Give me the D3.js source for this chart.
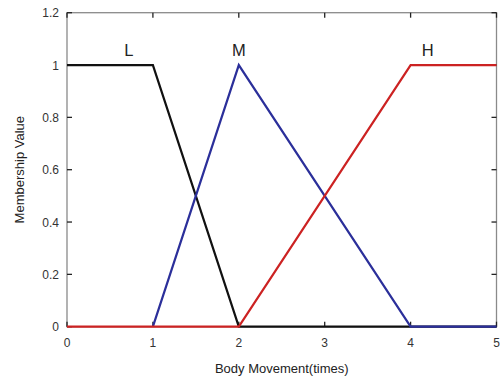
<!DOCTYPE html>
<html>
<head>
<meta charset="utf-8">
<script src="https://cdn.jsdelivr.net/npm/d3@7"></script>
<style>
body{margin:0;background:#fff;}
text{font-family:"Liberation Sans",Arial,sans-serif;}
</style>
</head>
<body>
<svg id="chart" width="502" height="381"></svg>
<script>
const xTicks = [0,1,2,3,4,5];
const yTicks = [0,0.2,0.4,0.6,0.8,1,1.2];
const yTickLabels = ["0","0.2","0.4","0.6","0.8","1","1.2"];
const seriesNames = ["L","M","H"];
const seriesColors = ["#111111","#2b2f9a","#cc2222"];
const lowX = [0,1,2,5];
const lowY = [1,1,0,0];
const medX = [1,2,4,5];
const medY = [0,1,0,0];
const highX = [0,2,4,5];
const highY = [0,0,1,1];
const labelPos = [[0.72,1.034],[2.0,1.034],[4.2,1.034]];
const xTitle = "Body Movement(times)";
const yTitle = "Membership Value";

const svg = d3.select("#chart");
const L=67, R=496.5, T=12.7, B=326.7;
const x = d3.scaleLinear().domain([0,5]).range([L,R]);
const y = d3.scaleLinear().domain([0,1.2]).range([B,T]);

// frame
svg.append("rect").attr("x",L).attr("y",T).attr("width",R-L).attr("height",B-T)
  .attr("fill","none").attr("stroke","#8a8a8a").attr("stroke-width",1.3);

// ticks inward
const tk=5;
const g = svg.append("g").attr("stroke","#222").attr("stroke-width",1.3);
xTicks.forEach(v=>{
  g.append("line").attr("x1",x(v)).attr("x2",x(v)).attr("y1",B).attr("y2",B-tk);
  g.append("line").attr("x1",x(v)).attr("x2",x(v)).attr("y1",T).attr("y2",T+tk);
});
yTicks.forEach(v=>{
  g.append("line").attr("x1",L).attr("x2",L+tk).attr("y1",y(v)).attr("y2",y(v));
  g.append("line").attr("x1",R).attr("x2",R-tk).attr("y1",y(v)).attr("y2",y(v));
});

// tick labels
svg.append("g").selectAll("text").data(xTicks).join("text")
  .attr("x",d=>x(d)).attr("y",B+20).attr("text-anchor","middle")
  .attr("font-size",12).attr("fill","#333").text(d=>d);
svg.append("g").selectAll("text").data(yTicks).join("text")
  .attr("x",L-8).attr("y",d=>y(d)+4.5).attr("text-anchor","end")
  .attr("font-size",12).attr("fill","#333").text((d,i)=>yTickLabels[i]);

// titles
svg.append("text").attr("x",(L+R)/2).attr("y",373).attr("text-anchor","middle")
  .attr("font-size",13).attr("fill","#222").text(xTitle);
svg.append("text").attr("transform",`translate(24,${(T+B)/2}) rotate(-90)`)
  .attr("text-anchor","middle").attr("font-size",13).attr("fill","#222").text(yTitle);

// lines: order black, blue, red
const line = d3.line().x(d=>x(d[0])).y(d=>y(d[1]));
const seriesData = [
  d3.zip(lowX,lowY),
  d3.zip(medX,medY),
  d3.zip(highX,highY)
];
[0,1,2].forEach(i=>{
  svg.append("path").attr("d",line(seriesData[i])).attr("fill","none")
    .attr("stroke",seriesColors[i]).attr("stroke-width",2.2).attr("stroke-linejoin","miter");
});

// labels
svg.append("g").selectAll("text").data(seriesNames).join("text")
  .attr("x",(d,i)=>x(labelPos[i][0])).attr("y",(d,i)=>y(labelPos[i][1]))
  .attr("text-anchor","middle").attr("font-size",16.5).attr("fill","#222").text(d=>d);
</script>
</body>
</html>
